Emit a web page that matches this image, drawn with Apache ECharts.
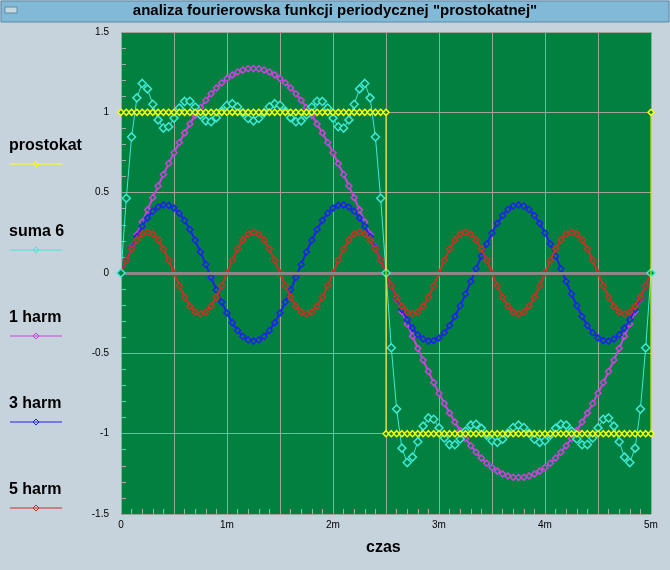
<!DOCTYPE html>
<html><head><meta charset="utf-8">
<script src="https://cdn.jsdelivr.net/npm/echarts@6/dist/echarts.min.js"></script>
<style>html,body{margin:0;padding:0;background:#c6d3dc}#c{width:670px;height:570px}</style>
</head><body><div id="c"></div>
<script>
const times = [0,0.05,0.1,0.15,0.2,0.25,0.3,0.35,0.4,0.45,0.5,0.55,0.6,0.65,0.7,0.75,0.8,0.85,0.9,0.95,1,1.05,1.1,1.15,1.2,1.25,1.3,1.35,1.4,1.45,1.5,1.55,1.6,1.65,1.7,1.75,1.8,1.85,1.9,1.95,2,2.05,2.1,2.15,2.2,2.25,2.3,2.35,2.4,2.45,2.5,2.55,2.6,2.65,2.7,2.75,2.8,2.85,2.9,2.95,3,3.05,3.1,3.15,3.2,3.25,3.3,3.35,3.4,3.45,3.5,3.55,3.6,3.65,3.7,3.75,3.8,3.85,3.9,3.95,4,4.05,4.1,4.15,4.2,4.25,4.3,4.35,4.4,4.45,4.5,4.55,4.6,4.65,4.7,4.75,4.8,4.85,4.9,4.95,5];
const harm1 = [0,.080,.160,.239,.317,.393,.469,.542,.613,.682,.748,.812,.872,.928,.981,1.030,1.075,1.116,1.152,1.184,1.211,1.233,1.251,1.263,1.271,1.273,1.271,1.263,1.251,1.233,1.211,1.184,1.152,1.116,1.075,1.030,.981,.928,.872,.812,.748,.682,.613,.542,.469,.393,.317,.239,.160,.080,0,
-.080,-.160,-.239,-.317,-.393,-.469,-.542,-.613,-.682,-.748,-.812,-.872,-.928,-.981,-1.030,-1.075,-1.116,-1.152,-1.184,-1.211,-1.233,-1.251,-1.263,-1.271,-1.273,-1.271,-1.263,-1.251,-1.233,-1.211,-1.184,-1.152,-1.116,-1.075,-1.030,-.981,-.928,-.872,-.812,-.748,-.682,-.613,-.542,-.469,-.393,-.317,-.239,-.160,-.080,0];
const harm3 = [0,.080,.156,.227,.291,.343,.384,.411,.424,.421,.404,.372,.327,.271,.204,.131,.053,-.027,-.106,-.181,-.249,-.309,-.358,-.395,-.417,-.424,-.417,-.395,-.358,-.309,-.249,-.181,-.106,-.027,.053,.131,.204,.271,.327,.372,.404,.421,.424,.411,.384,.343,.291,.227,.156,.080,0,
-.080,-.156,-.227,-.291,-.343,-.384,-.411,-.424,-.421,-.404,-.372,-.327,-.271,-.204,-.131,-.053,.027,.106,.181,.249,.309,.358,.395,.417,.424,.417,.395,.358,.309,.249,.181,.106,.027,-.053,-.131,-.204,-.271,-.327,-.372,-.404,-.421,-.424,-.411,-.384,-.343,-.291,-.227,-.156,-.080,0];
const harm5 = [0,.079,.150,.206,.242,.255,.242,.206,.150,.079,0,-.079,-.150,-.206,-.242,-.255,-.242,-.206,-.150,-.079,0,.079,.150,.206,.242,.255,.242,.206,.150,.079,0,-.079,-.150,-.206,-.242,-.255,-.242,-.206,-.150,-.079,0,.079,.150,.206,.242,.255,.242,.206,.150,.079,0,
-.079,-.150,-.206,-.242,-.255,-.242,-.206,-.150,-.079,0,.079,.150,.206,.242,.255,.242,.206,.150,.079,0,-.079,-.150,-.206,-.242,-.255,-.242,-.206,-.150,-.079,0,.079,.150,.206,.242,.255,.242,.206,.150,.079,0,-.079,-.150,-.206,-.242,-.255,-.242,-.206,-.150,-.079,0];
const suma6 = [0,.465,.847,1.090,1.180,1.146,1.050,.953,.902,.910,.964,1.027,1.068,1.069,1.033,.984,.947,.941,.967,1.009,1.044,1.054,1.035,.997,.962,.947,.962,.997,1.035,1.054,1.044,1.009,.967,.941,.947,.984,1.033,1.069,1.068,1.027,.964,.910,.902,.953,1.050,1.146,1.180,1.090,.847,.465,0,
-.465,-.847,-1.090,-1.180,-1.146,-1.050,-.953,-.902,-.910,-.964,-1.027,-1.068,-1.069,-1.033,-.984,-.947,-.941,-.967,-1.009,-1.044,-1.054,-1.035,-.997,-.962,-.947,-.962,-.997,-1.035,-1.054,-1.044,-1.009,-.967,-.941,-.947,-.984,-1.033,-1.069,-1.068,-1.027,-.964,-.910,-.902,-.953,-1.050,-1.146,-1.180,-1.090,-.847,-.465,0];
const squareT = [0,0.05,0.1,0.15,0.2,0.25,0.3,0.35,0.4,0.45,0.5,0.55,0.6,0.65,0.7,0.75,0.8,0.85,0.9,0.95,1,1.05,1.1,1.15,1.2,1.25,1.3,1.35,1.4,1.45,1.5,1.55,1.6,1.65,1.7,1.75,1.8,1.85,1.9,1.95,2,2.05,2.1,2.15,2.2,2.25,2.3,2.35,2.4,2.45,2.5,2.5,2.55,2.6,2.65,2.7,2.75,2.8,2.85,2.9,2.95,3,3.05,3.1,3.15,3.2,3.25,3.3,3.35,3.4,3.45,3.5,3.55,3.6,3.65,3.7,3.75,3.8,3.85,3.9,3.95,4,4.05,4.1,4.15,4.2,4.25,4.3,4.35,4.4,4.45,4.5,4.55,4.6,4.65,4.7,4.75,4.8,4.85,4.9,4.95,5,5];
const squareV = [1,1,1,1,1,1,1,1,1,1,1,1,1,1,1,1,1,1,1,1,1,1,1,1,1,1,1,1,1,1,1,1,1,1,1,1,1,1,1,1,1,1,1,1,1,1,1,1,1,1,1,-1,-1,-1,-1,-1,-1,-1,-1,-1,-1,-1,-1,-1,-1,-1,-1,-1,-1,-1,-1,-1,-1,-1,-1,-1,-1,-1,-1,-1,-1,-1,-1,-1,-1,-1,-1,-1,-1,-1,-1,-1,-1,-1,-1,-1,-1,-1,-1,-1,-1,-1,1];
const names = ['prostokat','suma 6','1 harm','3 harm','5 harm'];
const colors = ['#ffff00','#40e8d8','#cc44dd','#2222ee','#c83222'];
const xTicks = ['0','1m','2m','3m','4m','5m'];

const GREEN = '#02803f';
const pair = (t, v) => t.map((x, i) => [x, v[i]]);
const chart = echarts.init(document.getElementById('c'));
function ser(name, data, color, size, z, lw) {
  return {name, type:'line', data, z, symbol:'diamond', symbolSize:size, showSymbol:true,
    lineStyle:{color, width:lw}, itemStyle:{color:GREEN, borderColor:color, borderWidth:1.5}, animation:false};
}
const legendG = [];
names.forEach((n, i) => {
  const y = 147 + i * 86;
  legendG.push({type:'text', left:9, top:y-9, style:{text:n, font:'bold 16px Arial, "Liberation Sans"', fill:'#000'}});
  legendG.push({type:'line', shape:{x1:10, y1:y+17, x2:62, y2:y+17}, style:{stroke:colors[i], lineWidth:1}});
  legendG.push({type:'polygon', shape:{points:[[36,y+14],[39,y+17],[36,y+20],[33,y+17]]}, style:{fill:'none', stroke:colors[i], lineWidth:1}});
});
chart.setOption({
  backgroundColor:'#c6d3dc',
  animation:false,
  graphic:[
    {type:'rect', shape:{x:1, y:1, width:668, height:21}, style:{fill:'#82b9d6', stroke:'#5c8aa4'}, z:0},
    {type:'rect', shape:{x:5, y:7, width:12, height:6}, style:{fill:'#c8d8e0', stroke:'#5c8aa4'}},
    {type:'text', left:'center', top:3, style:{text:'analiza fourierowska funkcji periodycznej "prostokatnej"', font:'bold 15px Arial, "Liberation Sans"', fill:'#000'}},
    {type:'text', left:366, top:540, style:{text:'czas', font:'bold 16px Arial, "Liberation Sans"', fill:'#000'}},
    ...legendG
  ],
  grid:{left:121, right:19, top:32, bottom:56, show:true, backgroundColor:GREEN, borderWidth:0},
  xAxis:{type:'value', min:0, max:5, interval:0.5,
    axisLine:{show:false, onZero:false}, axisTick:{show:false},
    minorTick:{show:true, splitNumber:5, length:-5, lineStyle:{color:'#aaa'}},
    splitLine:{show:true, lineStyle:{color:'#9aa59c', width:1}},
    axisLabel:{color:'#000', fontSize:10, fontFamily:'Arial', margin:6,
      formatter:v => (Math.abs(v - Math.round(v)) < 1e-9 ? xTicks[Math.round(v)] : '')}},
  yAxis:{type:'value', min:-1.5, max:1.5, interval:0.5,
    axisLine:{show:false, onZero:false}, axisTick:{show:false},
    minorTick:{show:true, splitNumber:5, length:-5, lineStyle:{color:'#aaa'}},
    splitLine:{show:true, lineStyle:{color:'#9aa59c', width:1}},
    axisLabel:{color:'#000', fontSize:10, fontFamily:'Arial', margin:12}},
  series:[
    {type:'line', data:[], markLine:{silent:true, symbol:'none', label:{show:false}, lineStyle:{color:'#888', width:3, type:'solid'}, data:[{yAxis:0}]}, z:1},
    ser('1 harm', pair(times, harm1), colors[2], 6, 2, 2),
    ser('3 harm', pair(times, harm3), colors[3], 6, 3, 2),
    ser('5 harm', pair(times, harm5), colors[4], 6, 4, 2),
    ser('suma 6', pair(times, suma6), colors[1], 8, 5, 1),
    ser('prostokat', pair(squareT, squareV), colors[0], 6, 6, 1)
  ]
});
</script></body></html>
